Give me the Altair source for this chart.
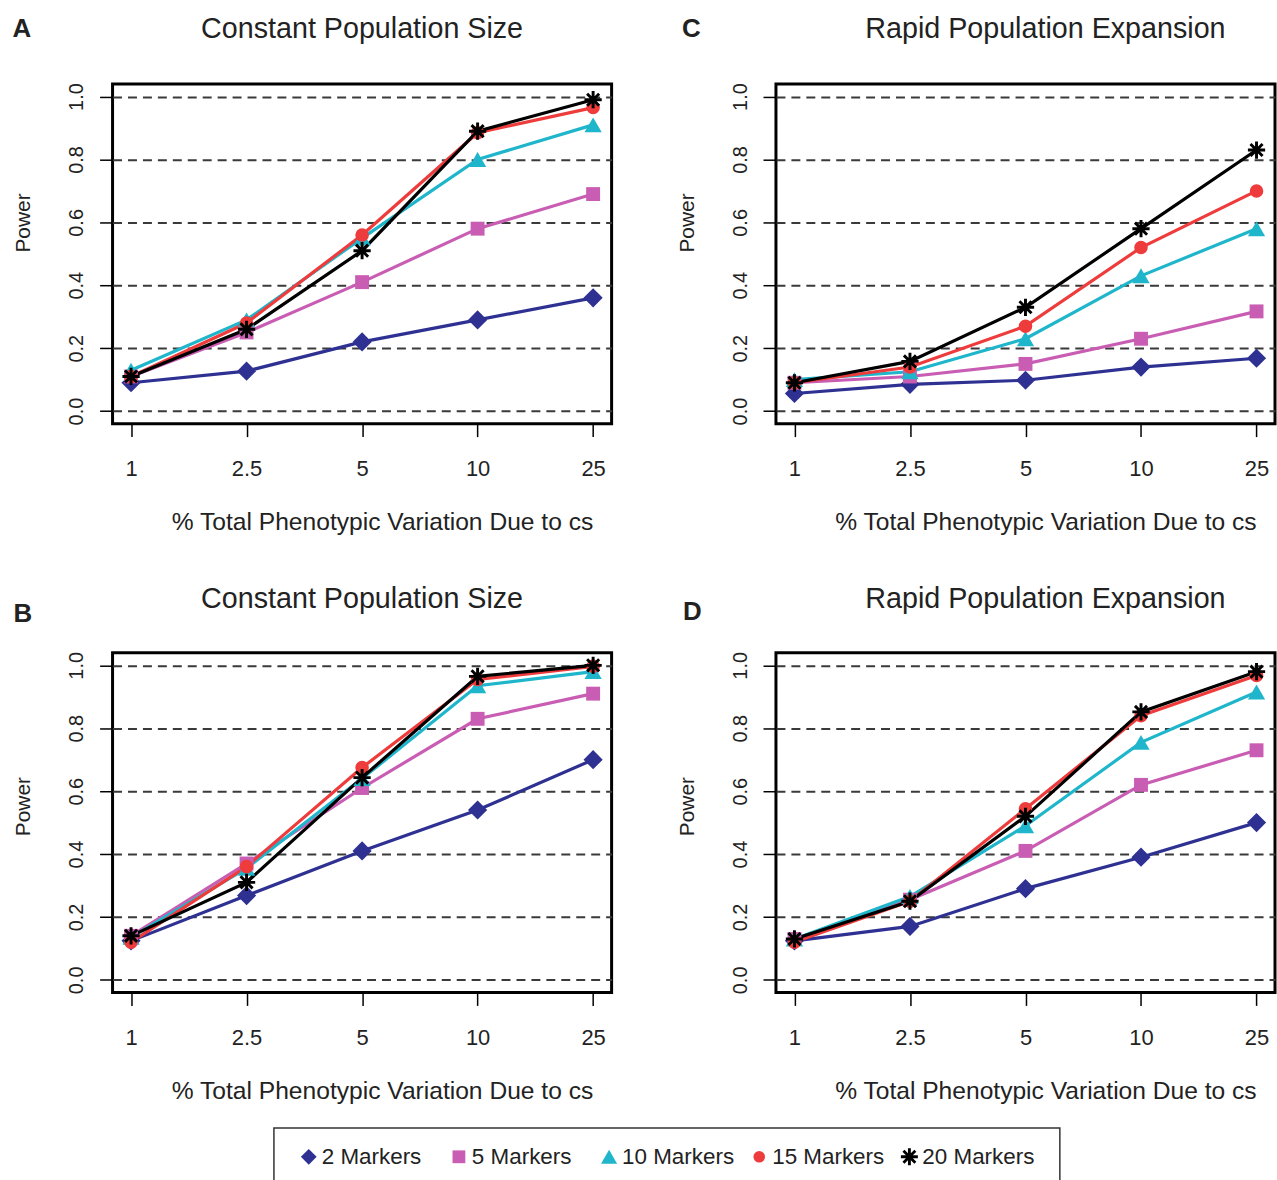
import altair as alt
import pandas as pd

# ---------------- data ----------------
pct_levels = ["1", "2.5", "5", "10", "25"]
series_names = ["2 Markers", "5 Markers", "10 Markers", "15 Markers", "20 Markers"]
series_colors = ["#2E3192", "#C95DB3", "#1FB5CB", "#EE3B3B", "#000000"]
star_path = ("M-1,-0.17H1V0.17H-1Z M-0.17,-1H0.17V1H-0.17Z "
             "M-0.58,-0.82L0.82,0.58L0.58,0.82L-0.82,-0.58Z M-0.82,0.58L0.58,-0.82L0.82,-0.58L-0.58,0.82Z")
series_shapes = ["diamond", "square", "triangle-up", "circle", star_path]
series_sizes = [370, 195, 300, 185, 300]
legend_sizes = [250, 165, 260, 135, 290]

panel_keys = ["A", "C", "B", "D"]
panel_titles = ["Constant Population Size", "Rapid Population Expansion",
                "Constant Population Size", "Rapid Population Expansion"]

# Panel A - Constant Population Size
a_2 = [0.09, 0.127, 0.22, 0.29, 0.36]
a_5 = [0.11, 0.25, 0.41, 0.58, 0.69]
a_10 = [0.13, 0.29, 0.55, 0.80, 0.91]
a_15 = [0.11, 0.28, 0.56, 0.885, 0.965]
a_20 = [0.11, 0.26, 0.51, 0.89, 0.99]

# Panel C - Rapid Population Expansion
c_2 = [0.056, 0.085, 0.098, 0.14, 0.168]
c_5 = [0.09, 0.11, 0.15, 0.23, 0.317]
c_10 = [0.10, 0.125, 0.23, 0.43, 0.58]
c_15 = [0.09, 0.14, 0.27, 0.52, 0.70]
c_20 = [0.09, 0.158, 0.33, 0.58, 0.83]

# Panel B - Constant Population Size
b_2 = [0.124, 0.268, 0.41, 0.54, 0.70]
b_5 = [0.14, 0.37, 0.61, 0.83, 0.91]
b_10 = [0.135, 0.355, 0.64, 0.935, 0.98]
b_15 = [0.12, 0.36, 0.675, 0.955, 0.997]
b_20 = [0.14, 0.31, 0.643, 0.965, 1.0]

# Panel D - Rapid Population Expansion
d_2 = [0.124, 0.17, 0.29, 0.39, 0.50]
d_5 = [0.13, 0.255, 0.41, 0.62, 0.73]
d_10 = [0.13, 0.265, 0.49, 0.755, 0.915]
d_15 = [0.12, 0.25, 0.544, 0.84, 0.968]
d_20 = [0.13, 0.25, 0.52, 0.852, 0.98]

panel_values = {
    "A": [a_2, a_5, a_10, a_15, a_20],
    "C": [c_2, c_5, c_10, c_15, c_20],
    "B": [b_2, b_5, b_10, b_15, b_20],
    "D": [d_2, d_5, d_10, d_15, d_20],
}

rows = []
for key in panel_keys:
    for s_name, vals in zip(series_names, panel_values[key]):
        for i, (lvl, v) in enumerate(zip(pct_levels, vals)):
            rows.append({"panel": key, "series": s_name, "pct": lvl, "idx": i, "power": v})
df = pd.DataFrame(rows)

# ---------------- styling ----------------
FONT = "Liberation Sans"
TXT = "#222222"
W, H = 501, 341

color_scale = alt.Scale(domain=series_names, range=series_colors)

letter_pos = {"A": (-91, -55), "C": (-85, -55), "B": (-90, -39), "D": (-84, -41)}
title_pos = {"A": (W / 2, -55), "C": (W / 2 + 20, -55), "B": (W / 2, -54), "D": (W / 2 + 20, -54)}
ytitle_y = {"A": 139, "C": 139, "B": 154, "D": 154}


def make_panel(key, title):
    x_enc = alt.X("pct:O", sort=pct_levels,
                  scale=alt.Scale(type="point", padding=0.16),
                  axis=alt.Axis(title="% Total Phenotypic Variation Due to cs", labelAngle=0,
                                titleX=W / 2 + 20))
    y_enc = alt.Y("power:Q", scale=alt.Scale(domain=[-0.04, 1.04], nice=False, zero=False),
                  axis=alt.Axis(title="Power", values=[0, 0.2, 0.4, 0.6, 0.8, 1.0], format=".1f",
                                titleY=ytitle_y[key]))
    base = alt.Chart(df).transform_filter(alt.datum.panel == key)
    lines = base.mark_line(strokeWidth=3.2).encode(
        x=x_enc, y=y_enc,
        color=alt.Color("series:N", scale=color_scale, legend=None),
        order=alt.Order("idx:Q"),
        detail="series:N",
    )
    point_layers = []
    for s_name, shp, sz in zip(series_names, series_shapes, series_sizes):
        point_layers.append(
            base.transform_filter(alt.datum.series == s_name)
            .mark_point(filled=True, opacity=1, shape=shp, size=sz)
            .encode(x=x_enc, y=y_enc,
                    color=alt.Color("series:N", scale=color_scale, legend=None))
        )
    lx, ly = letter_pos[key]
    letter = alt.Chart(pd.DataFrame({"letter": [key]})).mark_text(
        font=FONT, fontSize=26, fontWeight="bold", color=TXT, align="center", baseline="middle"
    ).encode(x=alt.value(lx), y=alt.value(ly), text="letter:N")
    tx, ty = title_pos[key]
    ptitle = alt.Chart(pd.DataFrame({"title": [title]})).mark_text(
        font=FONT, fontSize=28.8, fontWeight="normal", color=TXT, align="center", baseline="middle"
    ).encode(x=alt.value(tx), y=alt.value(ty), text="title:N")
    return alt.layer(lines, *point_layers, letter, ptitle).properties(width=W, height=H)


charts = [make_panel(k, t) for k, t in zip(panel_keys, panel_titles)]
grid = alt.concat(*charts, columns=2, spacing={"row": 47, "column": 61})

# ---------------- legend (boxed row of entries) ----------------
leg_df = pd.DataFrame({"series": series_names})
leg_x = alt.X("series:N", sort=series_names,
              scale=alt.Scale(type="point", padding=0.617, align=0.188), axis=None)
leg_layers = []
for s_name, shp, sz in zip(series_names, series_shapes, legend_sizes):
    leg_layers.append(
        alt.Chart(leg_df).transform_filter(alt.datum.series == s_name)
        .mark_point(filled=True, opacity=1, shape=shp, size=sz)
        .encode(x=leg_x, y=alt.value(29),
                color=alt.Color("series:N", scale=color_scale, legend=None))
    )
leg_txt = alt.Chart(leg_df).mark_text(
    align="left", baseline="middle", dx=13, font=FONT, fontSize=22.5, color=TXT
).encode(x=leg_x, y=alt.value(29), text="series:N")
legend_box = alt.layer(*leg_layers, leg_txt).properties(
    width=789, height=56, view=alt.ViewBackground(stroke="#333333", strokeWidth=1.5)
)
spacer = alt.Chart(pd.DataFrame({"s": [0]})).mark_point(opacity=0).encode(
    x=alt.value(0), y=alt.value(0)
).properties(width=159, height=10, view=alt.ViewBackground(stroke="transparent"))
legend_row = alt.hconcat(spacer, legend_box, spacing=0)

chart = alt.vconcat(grid, legend_row, spacing=18).properties(
    padding={"left": 11, "top": 11, "right": 0, "bottom": 0}
).configure_view(
    stroke="black", strokeWidth=3
).configure_axis(
    labelFont=FONT, titleFont=FONT, labelColor=TXT, titleColor=TXT,
    tickColor="black", tickWidth=1.5, tickSize=13, domain=False,
    titleFontWeight="normal", grid=False,
).configure_axisX(
    labelFontSize=22, labelPadding=22, titleFontSize=24.7, titlePadding=30,
).configure_axisY(
    grid=True, gridDash=[9, 6], gridColor="#3a3a3a", gridWidth=2.1,
    labelAngle=270, labelAlign="center", labelBaseline="bottom",
    labelFontSize=20, labelPadding=13, titleFontSize=21, titlePadding=33,
)

chart.save("out.html", embed_options={"renderer": "svg", "actions": False})
